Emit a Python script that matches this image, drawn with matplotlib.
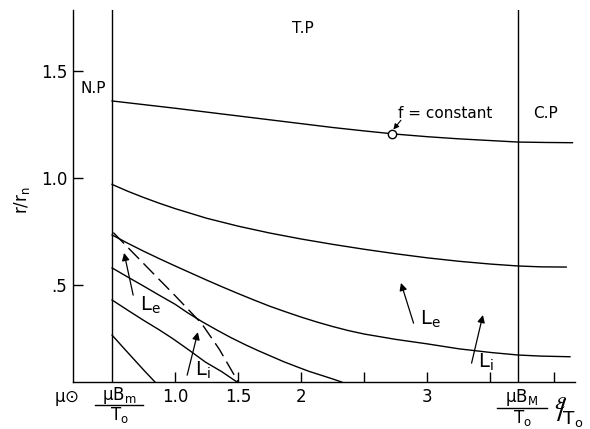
import numpy as np
import matplotlib
matplotlib.use('Agg')
import matplotlib.pyplot as plt
from matplotlib.lines import Line2D

plt.rcParams['font.family'] = ['DejaVu Sans']
plt.rcParams['mathtext.default'] = 'regular'

# constant-f curves, r/r_n against E/T0
c1_x = [0.5, 0.75, 1.0, 1.25, 1.5, 1.75, 2.0, 2.25, 2.5, 2.75, 3.0, 3.25, 3.5, 3.72, 3.95, 4.15]
c1_y = [1.36, 1.343, 1.326, 1.308, 1.29, 1.272, 1.254, 1.236, 1.22, 1.205, 1.193, 1.183, 1.175, 1.168, 1.166, 1.165]
c2_x = [0.5, 0.625, 0.75, 0.875, 1.0, 1.25, 1.5, 1.75, 2.0, 2.25, 2.5, 2.75, 3.0, 3.25, 3.5, 3.72, 3.9, 4.1]
c2_y = [0.97, 0.938, 0.909, 0.882, 0.857, 0.812, 0.775, 0.743, 0.715, 0.69, 0.667, 0.646, 0.627, 0.611, 0.598, 0.589, 0.585, 0.584]
c3_x = [0.5, 0.625, 0.75, 0.875, 1.0, 1.125, 1.25, 1.375, 1.5, 1.625, 1.75, 1.875, 2.0, 2.125, 2.25,
        2.375, 2.5, 2.75, 3.0, 3.25, 3.5, 3.72, 3.9, 4.13]
c3_y = [0.734, 0.695, 0.658, 0.623, 0.589, 0.556, 0.523, 0.491, 0.46, 0.43, 0.401, 0.375, 0.35, 0.327, 0.306,
        0.287, 0.271, 0.246, 0.225, 0.202, 0.185, 0.173, 0.168, 0.165]
c4_x = [0.5, 0.625, 0.75, 0.875, 1.0, 1.1, 1.21, 1.33, 1.44, 1.56, 1.66, 1.75, 1.86, 1.97, 2.06, 2.15, 2.24, 2.32]
c4_y = [0.58, 0.537, 0.495, 0.452, 0.41, 0.37, 0.33, 0.29, 0.255, 0.22, 0.193, 0.17, 0.142, 0.117, 0.097, 0.08, 0.063, 0.047]
c5_x = [0.5, 0.625, 0.75, 0.87, 0.98, 1.11, 1.24, 1.37, 1.49]
c5_y = [0.43, 0.382, 0.335, 0.292, 0.25, 0.196, 0.14, 0.095, 0.047]
c6_x = [0.5, 0.585, 0.67, 0.755, 0.84]
c6_y = [0.266, 0.21, 0.155, 0.1, 0.047]
curves = [(c1_x, c1_y), (c2_x, c2_y), (c3_x, c3_y), (c4_x, c4_y), (c5_x, c5_y), (c6_x, c6_y)]

# dashed boundary
dash_x = [0.51, 0.8, 1.0, 1.21, 1.35, 1.5]
dash_y = [0.745, 0.57, 0.45, 0.32, 0.2, 0.047]

x_min, x_max = 0.19, 4.17
y_min, y_max = 0.047, 1.785
x_bm, x_bM = 0.5, 3.72
f_x = 2.72

xticks = [1.0, 1.5, 2.0, 2.5, 3.0, 3.5, 4.0]
xticklabels = ['1.0', '1.5', '2', '', '3', '', '']
yticks = [0.5, 1.0, 1.5]
yticklabels = ['.5', '1.0', '1.5']

# (tail, head, label, label position)
arrows = [
    ((0.667, 0.453), (0.595, 0.65), r'$L_e$', (0.72, 0.405)),
    ((1.095, 0.079), (1.18, 0.28), r'$L_i$', (1.16, 0.10)),
    ((2.89, 0.322), (2.79, 0.51), r'$L_e$', (2.94, 0.34)),
    ((3.35, 0.135), (3.44, 0.36), r'$L_i$', (3.40, 0.14)),
]

W, H = 590, 429
fig = plt.figure(figsize=(W / 100, H / 100), dpi=100)
ax = fig.add_axes([73 / W, 1 - 382 / H, (575 - 73) / W, (382 - 10) / H])
lw = 1.0

for xs, ys in curves:
    ax.plot(xs, ys, color='black', lw=lw)
ax.plot(dash_x, dash_y, color='black', lw=lw, dashes=(11, 4.5))

ax.axvline(x_bm, color='black', lw=lw)
ax.axvline(x_bM, color='black', lw=lw)

# f = constant marker on the top curve
f_y = np.interp(f_x, c1_x, c1_y)
ax.plot([f_x], [f_y], marker='o', ms=6, mfc='white', mec='black', mew=1.0)
ax.annotate('', xy=(f_x + 0.01, f_y + 0.02), xytext=(2.79, 1.27),
            arrowprops=dict(arrowstyle='-|>', color='black', lw=0.8,
                            mutation_scale=8, shrinkA=0, shrinkB=0))
ax.text(2.77, 1.30, 'f = constant', fontsize=11, ha='left', va='center')

for tail, head, lab, pos in arrows:
    ax.annotate('', xy=head, xytext=tail,
                arrowprops=dict(arrowstyle='-|>', color='black', lw=0.9,
                                mutation_scale=11, shrinkA=0, shrinkB=0))
    ax.text(pos[0], pos[1], lab, fontsize=14, ha='left', va='center')

ax.text(2.016, 1.70, 'T.P', fontsize=11, ha='center', va='center')
ax.text(0.35, 1.42, 'N.P', fontsize=11, ha='center', va='center')
ax.text(3.94, 1.30, 'C.P', fontsize=11, ha='center', va='center')

ax.set_xlim(x_min, x_max)
ax.set_ylim(y_min, y_max)
for s in ['top', 'right']:
    ax.spines[s].set_visible(False)
for s in ['left', 'bottom']:
    ax.spines[s].set_linewidth(lw)

ax.set_xticks(xticks)
ax.set_xticklabels(xticklabels)
ax.set_yticks(yticks)
ax.set_yticklabels(yticklabels)
ax.tick_params(direction='in', length=7, width=lw, labelsize=12, pad=4)


def fraction(cx, y_num, y_bar, y_den, half, num, den):
    # stacked numerator / bar / denominator, positions in pixels from top-left
    fig.text(cx / W, 1 - y_num / H, num, fontsize=12, ha='center', va='center')
    fig.add_artist(Line2D([(cx - half) / W, (cx + half) / W], [1 - y_bar / H] * 2,
                          color='black', lw=1.0))
    fig.text(cx / W, 1 - y_den / H, den, fontsize=12, ha='center', va='center')


fraction(119, 395, 405, 415, 24, r'$\mu B_m$', r'$T_o$')
fraction(522, 398, 408, 418, 25, r'$\mu B_M$', r'$T_o$')

fig.text(67 / W, 1 - 398 / H, r'$\mu$' + '\u2299', fontsize=12, ha='center', va='center')
fig.text(554 / W, 1 - 413 / H, r'${}^{\mathcal{E}}\!\!/{}_{\!T_o}$', fontsize=19, ha='left', va='center')

fig.text(22 / W, 1 - 200 / H, r'$r/r_n$', fontsize=12, rotation=90, ha='center', va='center')

fig.savefig('out.png', dpi=100)
